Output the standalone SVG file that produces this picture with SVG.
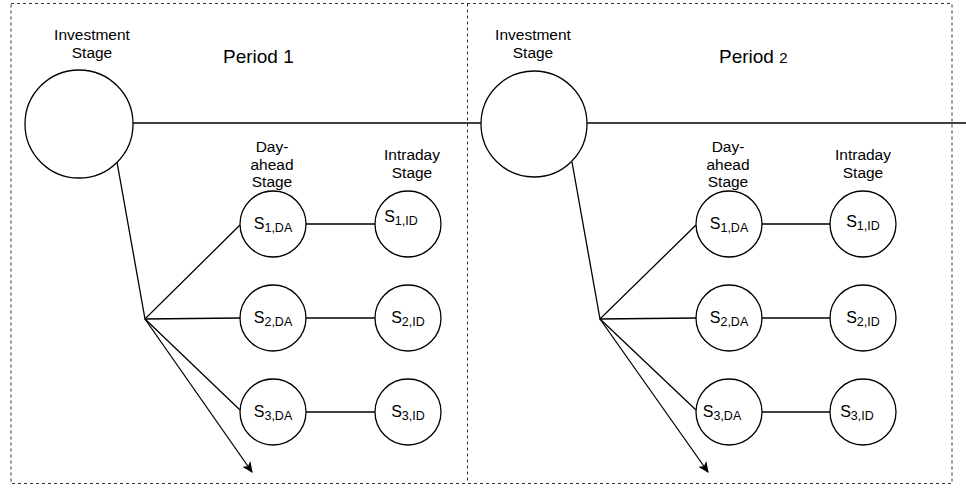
<svg xmlns="http://www.w3.org/2000/svg" width="966" height="489" viewBox="0 0 966 489">
<defs>
<marker id="arr" viewBox="0 0 10 10" refX="9" refY="5" markerWidth="11" markerHeight="11" markerUnits="userSpaceOnUse" orient="auto">
<path d="M0,0.5 L10,5 L0,9.5 L2.5,5 Z" fill="#000"/>
</marker>
<style>
text{font-family:"Liberation Sans",Arial,sans-serif;fill:#000;}
.lbl{font-size:15.5px;text-anchor:middle;}
.per{font-size:19px;}
.s{font-size:16px;text-anchor:middle;}
.sub{font-size:12.5px;}
.c{fill:#fff;stroke:#000;stroke-width:1.3;}
.ln{stroke:#000;stroke-width:1.3;fill:none;}
.dash{fill:none;stroke:#333;stroke-width:1;stroke-dasharray:3,3;}
</style>
</defs>
<rect width="966" height="489" fill="#fff"/>
<g id="frames">
<rect class="dash" x="11" y="3.5" width="941" height="480"/>
<line class="dash" x1="467.5" y1="3.5" x2="467.5" y2="483.5"/>
</g>
<g id="connectors">
<line class="ln" x1="133" y1="123" x2="481" y2="123"/>
<line class="ln" x1="587" y1="123" x2="966" y2="123"/>
<polyline class="ln" points="117,162 145,319 240,225"/>
<line class="ln" x1="145" y1="319" x2="240" y2="318"/>
<line class="ln" x1="145" y1="319" x2="240" y2="410"/>
<line class="ln" x1="145" y1="319" x2="252" y2="472" marker-end="url(#arr)"/>
<line class="ln" x1="306" y1="224" x2="375" y2="224"/>
<line class="ln" x1="306" y1="318" x2="375" y2="318"/>
<line class="ln" x1="306" y1="412" x2="375" y2="412"/>
<polyline class="ln" points="572,162 600,319 696,225"/>
<line class="ln" x1="600" y1="319" x2="696" y2="318"/>
<line class="ln" x1="600" y1="319" x2="696" y2="410"/>
<line class="ln" x1="600" y1="319" x2="708" y2="472" marker-end="url(#arr)"/>
<line class="ln" x1="762" y1="224" x2="830" y2="224"/>
<line class="ln" x1="762" y1="318" x2="830" y2="318"/>
<line class="ln" x1="762" y1="412" x2="830" y2="412"/>
</g>
<g id="period1-label"><text class="per" x="223" y="63">Period 1</text></g>
<g id="period2-label"><text class="per" x="719" y="63">Period <tspan style="font-size:15px">2</tspan></text></g>
<g id="inv1">
<circle class="c" cx="79" cy="124" r="54"/>
<text class="lbl" x="92" y="40">Investment</text>
<text class="lbl" x="92" y="58">Stage</text>
</g>
<g id="inv2">
<circle class="c" cx="534" cy="124" r="53"/>
<text class="lbl" x="533" y="40">Investment</text>
<text class="lbl" x="533" y="58">Stage</text>
</g>
<g id="da-label1"><text class="lbl" x="272" y="152">Day-</text><text class="lbl" x="272" y="170">ahead</text><text class="lbl" x="272" y="187">Stage</text></g>
<g id="id-label1"><text class="lbl" x="412" y="160">Intraday</text><text class="lbl" x="412" y="178">Stage</text></g>
<g id="da-label2"><text class="lbl" x="728" y="152">Day-</text><text class="lbl" x="728" y="170">ahead</text><text class="lbl" x="728" y="187">Stage</text></g>
<g id="id-label2"><text class="lbl" x="863" y="160">Intraday</text><text class="lbl" x="863" y="178">Stage</text></g>
<g id="s1da-p1"><circle class="c" cx="273" cy="224" r="33"/><text class="s" x="273" y="229">S<tspan class="sub" dy="3">1,DA</tspan></text></g>
<g id="s2da-p1"><circle class="c" cx="273" cy="318" r="33"/><text class="s" x="273" y="323">S<tspan class="sub" dy="3">2,DA</tspan></text></g>
<g id="s3da-p1"><circle class="c" cx="273" cy="412" r="33"/><text class="s" x="273" y="417">S<tspan class="sub" dy="3">3,DA</tspan></text></g>
<g id="s1id-p1"><circle class="c" cx="408" cy="224" r="33"/><text class="s" x="401" y="222">S<tspan class="sub" dy="3">1,ID</tspan></text></g>
<g id="s2id-p1"><circle class="c" cx="408" cy="318" r="33"/><text class="s" x="408" y="323">S<tspan class="sub" dy="3">2,ID</tspan></text></g>
<g id="s3id-p1"><circle class="c" cx="408" cy="412" r="33"/><text class="s" x="408" y="417">S<tspan class="sub" dy="3">3,ID</tspan></text></g>
<g id="s1da-p2"><circle class="c" cx="729" cy="224" r="33"/><text class="s" x="729" y="229">S<tspan class="sub" dy="3">1,DA</tspan></text></g>
<g id="s2da-p2"><circle class="c" cx="729" cy="318" r="33"/><text class="s" x="729" y="323">S<tspan class="sub" dy="3">2,DA</tspan></text></g>
<g id="s3da-p2"><circle class="c" cx="729" cy="412" r="33"/><text class="s" x="722" y="417">S<tspan class="sub" dy="3">3,DA</tspan></text></g>
<g id="s1id-p2"><circle class="c" cx="863" cy="224" r="33"/><text class="s" x="863" y="227">S<tspan class="sub" dy="3">1,ID</tspan></text></g>
<g id="s2id-p2"><circle class="c" cx="863" cy="318" r="33"/><text class="s" x="863" y="323">S<tspan class="sub" dy="3">2,ID</tspan></text></g>
<g id="s3id-p2"><circle class="c" cx="863" cy="412" r="33"/><text class="s" x="857" y="417">S<tspan class="sub" dy="3">3,ID</tspan></text></g>
</svg>
